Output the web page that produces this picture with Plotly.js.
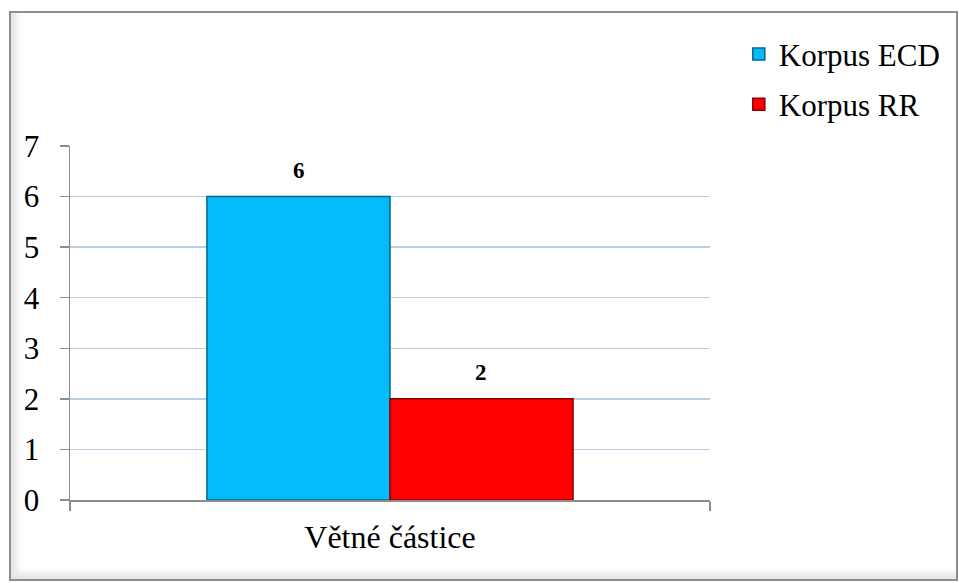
<!DOCTYPE html>
<html>
<head>
<meta charset="utf-8">
<script src="https://cdn.plot.ly/plotly-3.0.1.min.js"></script>
<style>
  html, body { margin: 0; padding: 0; background: #fff; }
  #wrap { position: relative; width: 959px; height: 583px; }
  #chart { width: 959px; height: 583px; }
  #frame {
    position: absolute; left: 9px; top: 11px; width: 945px; height: 566px;
    border: 2px solid #8e8e8e; pointer-events: none;
    box-shadow: inset 6px -6px 6px rgba(0,0,0,0.10);
  }
</style>
</head>
<body>
<div id="wrap">
  <div id="chart"></div>
  <div id="frame"></div>
</div>
<script>
// Counts of sentence particles in two corpora
const categories = ["Větné částice"];
const seriesNames = ["Korpus ECD", "Korpus RR"];
const ecdValues = [6];
const rrValues = [2];
const yTicks = [0, 1, 2, 3, 4, 5, 6, 7];

const serif = "Liberation Serif";

function barTrace(name, values, fill, edge, group) {
  return {
    type: "bar",
    name: name,
    x: categories,
    y: values,
    marker: { color: fill, line: { color: edge, width: 1.5 } },
    legendgroup: group,
    hoverinfo: "x+y+name"
  };
}

const data = [
  barTrace(seriesNames[0], ecdValues, "#06bbf9", "#05668a", "a"),
  barTrace(seriesNames[1], rrValues, "#fe0000", "#8a0000", "b")
];

// value labels above each bar, one per series, offset to its slot in the group
const valueLabels = [];
[[ecdValues, -91], [rrValues, 91]].forEach(([vals, dx]) => {
  vals.forEach((v, i) => {
    valueLabels.push({
      x: categories[i], y: v, text: String(v),
      xref: "x", yref: "y", showarrow: false,
      xshift: dx, yshift: 26,
      font: { family: serif, size: 23, color: "#000", weight: "bold" }
    });
  });
});

const layout = {
  width: 959,
  height: 583,
  margin: { l: 70, r: 249, t: 146, b: 83 },
  paper_bgcolor: "#ffffff",
  plot_bgcolor: "#ffffff",
  font: { family: serif, color: "#000", size: 30 },
  barmode: "group",
  bargap: 0.428,
  bargroupgap: 0,
  showlegend: true,
  annotations: valueLabels,
  legend: {
    x: 1.045, xanchor: "left",
    y: 1.335, yanchor: "top",
    font: { family: serif, size: 31, color: "#000" },
    tracegroupgap: 7,
    traceorder: "grouped",
    itemwidth: 30,
    bgcolor: "rgba(0,0,0,0)"
  },
  xaxis: {
    type: "category",
    showline: true,
    linecolor: "#8c8c8c",
    linewidth: 1.5,
    ticks: "outside",
    tickson: "boundaries",
    ticklen: 9,
    tickcolor: "#8c8c8c",
    tickwidth: 1.5,
    tickfont: { family: serif, size: 32, color: "#000" },
    ticklabelstandoff: 8,
    showgrid: false,
    zeroline: false,
    fixedrange: true
  },
  yaxis: {
    range: [0, 7],
    tickvals: yTicks,
    ticktext: yTicks.map(String),
    showline: true,
    linecolor: "#8c8c8c",
    linewidth: 1.5,
    ticks: "outside",
    ticklen: 9,
    tickcolor: "#8c8c8c",
    tickwidth: 1.5,
    tickfont: { family: serif, size: 31, color: "#000" },
    ticklabelstandoff: 14,
    showgrid: true,
    gridcolor: "#b9cde5",
    gridwidth: 1.5,
    zeroline: false,
    fixedrange: true
  }
};

Plotly.newPlot("chart", data, layout, { displayModeBar: false, staticPlot: true });
</script>
</body>
</html>
